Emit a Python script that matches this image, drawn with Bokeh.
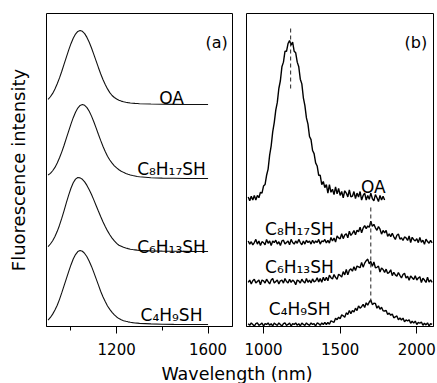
import numpy as np
from bokeh.plotting import figure
from bokeh.models import Range1d, FixedTicker, Label
from bokeh.layouts import column, row
from bokeh.embed import file_html
from bokeh.resources import INLINE
from bokeh.core.properties import value

FONT = "DejaVu Sans"
INK = "#111111"

# ---------------- panel (a): smooth spectra (intensity, % of peak) ----------------
wl_a = list(range(900, 1301, 10)) + [1350, 1400, 1450, 1500, 1550, 1600]

oa_a = [7, 10.5, 15, 21, 28, 36, 45, 54.5, 64, 73.5,
        82.2, 89.6, 95.2, 98.8, 100, 98.9, 95.8, 90.7, 84.1, 76.3,
        67.8, 58.9, 50.1, 41.6, 33.9, 27.0, 21.1, 16.1, 12.2, 9.5,
        7.4, 5.8, 4.6, 3.7, 3.0, 2.5, 2.1, 1.8, 1.5, 1.3,
        1.1, 0.6, 0.3, 0.2, 0.1, 0, 0]
c8_a = [4.8, 7, 10.5, 15, 21, 28, 36, 45, 54.5, 64,
        73.5, 82.2, 89.6, 95.2, 98.8, 100, 98.9, 95.8, 90.8, 84.3,
        76.7, 68.4, 59.8, 51.5, 43.6, 36.5, 30.2, 25.0, 20.7, 17.2,
        14.3, 11.9, 9.9, 8.3, 6.9, 5.8, 4.8, 4.0, 3.4, 2.8,
        2.3, 1.0, 0.5, 0.3, 0.1, 0, 0]
c6_a = [6.5, 10.1, 14.5, 20.2, 27.2, 35.5, 45.0, 55.3, 66.0, 76.2,
        85.4, 92.8, 97.8, 99.9, 99.5, 97.5, 94.1, 89.3, 83.5, 76.9,
        69.7, 62.2, 54.6, 47.2, 40.2, 33.7, 27.8, 22.6, 18.1, 14.2,
        11.0, 8.4, 7.0, 5.6, 4.6, 3.8, 3.1, 2.6, 2.2, 1.8,
        1.5, 0.8, 0.4, 0.2, 0.1, 0, 0]
c4_a = [6, 9.5, 14, 19.5, 26, 34, 43, 52.5, 62, 71.5,
        80.5, 88.5, 94.5, 98.5, 100, 99, 96, 91.5, 85.5, 78.5,
        70.5, 62, 53.5, 45, 37.5, 31, 25, 20.5, 16.5, 13,
        10.2, 8, 6.4, 5.2, 4.3, 3.6, 3.0, 2.5, 2.1, 1.8,
        1.5, 0.8, 0.4, 0.2, 0.1, 0, 0]

names = ["OA", "C\u2088H\u2081\u2087SH", "C\u2086H\u2081\u2083SH", "C\u2084H\u2089SH"]
series_a = [oa_a, c8_a, c6_a, c4_a]
offset_a = [300, 200, 101.4, 2.7]
label_x_a = [1440, 1440, 1440, 1440]
label_y_a = [309, 213, 107, 15.5]

# ---------------- panel (b): noisy spectra (% of OA peak) ----------------
wl_b_oa = list(range(900, 1791, 10))
wl_b = list(range(900, 2101, 10))

oa_b = [1, -1.5, 1.5, -1, 2, -1, 2, 0.5, 4, 3.5,
        8, 9, 15, 19, 28, 34, 43, 49, 57, 62,
        71, 76, 85, 88, 95, 95, 100, 102, 99, 101,
        95, 94, 88, 85, 77, 74, 65, 60, 52, 48,
        40, 38, 31, 29, 23, 21, 15, 15, 9, 11,
        7, 9, 3.5, 9, 4, 6, 2.5, 7.5, 3, 6.5,
        2, 4.5, 0.5, 5, 3.5, 1, 5.5, 1, 1.5, 4.5,
        0, 3.5, 1, 4.5, -1, 2, 3.5, -1, 2, -0.5,
        3.5, 0, -1.5, 2.5, 0.5, -2, 2, -1, 1.5, -1]
c8_b = [1, -1, 0.5, -1.5, 0, 2, -1, 1, -2, 0.5,
        0, -1.5, 2, -0.5, 1, -2, 1, 0, 1.5, -1,
        0.5, -2, 1, 1.5, -1, 0, 1, -1.5, 2, 0,
        -1, 1, -0.5, 2, 0, -1.5, 1, -1, 1.5, 0,
        1, -1, 1.5, -0.5, 1, 0, 2, -1, 1, 0.5,
        2.0, -0.3, 1.4, -0.4, 3.3, 1.0, 2.9, 0.3, 4.2, 3.0,
        2.4, 5.7, 2.5, 4.8, 5.7, 3.0, 7.3, 4.6, 5.9, 7.7,
        5.0, 7.9, 6.9, 9.9, 6.3, 9.3, 10.9, 9.0, 10.7, 9.8,
        13.8, 10.4, 11.7, 9.5, 7.9, 10.3, 8.6, 5.4, 7.8, 6.2,
        7.8, 4.0, 5.6, 3.8, 6.0, 3.7, 2.0, 4.7, 5.5, 2.2,
        3.0, 1.3, 3.6, 3.0, 1.3, 4.2, 0.0, 3.4, 1.8, 1.1,
        2.5, -0.1, 3.2, 0.1, 1.5, -1.2, 2.2, 0.6, -0.5, 1.4,
        -0.2]
c6_b = [-0.5, 1, -1.5, 0.5, 1.5, -1, 0, 1, -2, 1,
        0.5, -1, 1.5, 0, -1.5, 1, 2, -1, 0, 1,
        -1.5, 0.5, 1, -1, 2, 0, -1, 1.5, -0.5, 1,
        0, -2, 1, 0.5, -1, 1.5, 0, -1, 2, -0.5,
        1.0, -0.9, 1.7, -0.2, 0.4, 2.5, -0.3, 1.9, -0.4, 2.8,
        0.5, 2.7, 0.5, 4.2, 2.5, 1.7, 4.5, 2.7, 1.5, 4.7,
        4.0, 2.9, 6.4, 4.3, 7.8, 4.3, 7.3, 8.2, 6.7, 9.6,
        7.1, 10.0, 9.5, 8.9, 12.4, 9.3, 11.9, 13.5, 14.5, 11.4,
        13.0, 9.8, 12.6, 8.9, 9.2, 10.0, 6.1, 8.7, 7.8, 5.9,
        8.0, 5.2, 5.9, 7.6, 3.8, 6.0, 4.3, 3.5, 5.8, 4.0,
        2.3, 4.6, 5.4, 2.2, 3.5, 0.8, 3.6, 2.5, 1.3, 3.7,
        1.0, 2.3, 3.1, -0.6, 2.2, 1.0, -0.6, 2.8, -0.3, 1.1,
        -0.5]
c4_b = [0.5, -0.5, 1, 0, -1, 0.5, 1, -0.5, 0, 1,
        -1, 0.5, 0, 1, -0.5, 0.5, -1, 1, 0, -0.5,
        1, 0, -1, 0.5, 1, -0.5, 0, 1, -1, 0.5,
        0, 1, -0.5, 0.5, -1, 1, 0, -0.5, 1, 0,
        -0.5, 1, 0, 0.5, -1, 1, 0.5, -0.5, 1, 0,
        1.3, 0.0, 1.3, 0.1, 2.4, 1.8, 1.4, 4.0, 3.1, 4.7,
        3.7, 6.2, 5.6, 4.6, 7.5, 6.5, 9.0, 7.0, 9.0, 8.0,
        10.5, 9.0, 12.0, 10.5, 11.5, 13.0, 11.0, 14.0, 12.5, 14.5,
        15.9, 12.8, 13.7, 13.6, 10.5, 12.0, 9.8, 11.1, 8.9, 8.7,
        9.0, 6.4, 7.4, 5.9, 6.8, 4.3, 4.9, 5.5, 3.1, 4.2,
        2.9, 4.1, 1.8, 3.0, 2.2, 3.0, 0.8, 2.1, 0.9, 2.2,
        0.0, 1.4, 0.8, 1.6, -0.5, 0.8, -0.3, 1.1, -1.0, 0.5,
        0.0]

series_b = [(wl_b_oa, oa_b), (wl_b, c8_b), (wl_b, c6_b), (wl_b, c4_b)]
offset_b = [82.6, 54.2, 29.0, 1.3]
label_x_b = [1716, 1234, 1234, 1236]
label_y_b = [89.9, 63.1, 38.3, 11.4]

# peak markers (dashed): wavelength, y from, y to
peak_marks_b = [(1177, 192.3, 153.5), (1700, 76.8, 14.8)]


def style(p):
    p.outline_line_color = "black"
    p.outline_line_width = 1
    p.outline_line_alpha = 1
    p.xgrid.grid_line_color = None
    p.ygrid.grid_line_color = None
    p.background_fill_color = "white"
    p.border_fill_color = "white"
    ax = p.xaxis[0]
    ax.axis_line_color = "black"
    ax.major_tick_out = 7
    ax.major_tick_in = 0
    ax.minor_tick_out = 4
    ax.minor_tick_in = 0
    ax.major_tick_line_color = "black"
    ax.minor_tick_line_color = "black"
    ax.major_label_text_font = FONT
    ax.major_label_text_font_size = "15px"
    ax.major_label_text_color = "black"
    ax.major_label_standoff = 9


# ---- figure a
fa = figure(width=239, height=360, x_range=Range1d(893, 1707), y_range=Range1d(0, 423),
            output_backend="svg", toolbar_location=None, title=None,
            min_border_left=46, min_border_right=7, min_border_top=13, min_border_bottom=34)
style(fa)
fa.xaxis.ticker = FixedTicker(ticks=[1200, 1600], minor_ticks=[1000, 1400])
fa.yaxis.ticker = FixedTicker(ticks=[], minor_ticks=[])
fa.yaxis.axis_line_color = None
fa.yaxis.major_tick_out = 0
fa.yaxis.minor_tick_out = 0
fa.yaxis.major_label_standoff = 0
fa.yaxis.axis_label = "Fluorescence intensity"
fa.yaxis.axis_label_text_font = FONT
fa.yaxis.axis_label_text_font_size = "18px"
fa.yaxis.axis_label_text_font_style = "normal"
fa.yaxis.axis_label_text_color = "black"
fa.yaxis.axis_label_standoff = 18

for vals, off in zip(series_a, offset_a):
    fa.line(wl_a, np.array(vals) + off, line_color=INK, line_width=1.1)
fa.text(x=label_x_a, y=label_y_a, text=names, text_font=value(FONT),
        text_font_size=value("17px"), text_align="center", text_baseline="alphabetic",
        text_color="black")
fa.add_layout(Label(x=1686, y=383.8, text="(a)", text_align="right", text_baseline="alphabetic",
                    text_font=FONT, text_font_size="16px", text_color="black"))

# ---- figure b
fb = figure(width=198, height=360, x_range=Range1d(889, 2109), y_range=Range1d(0, 202),
            output_backend="svg", toolbar_location=None, title=None, y_axis_type=None,
            min_border_left=7, min_border_right=4, min_border_top=13, min_border_bottom=34)
style(fb)
fb.xaxis.ticker = FixedTicker(ticks=[1000, 1500, 2000], minor_ticks=[])

for (wl, vals), off in zip(series_b, offset_b):
    fb.line(wl, np.array(vals) + off, line_color="black", line_width=1.4)
for wl, y0, y1 in peak_marks_b:
    fb.segment(x0=[wl], y0=[y0], x1=[wl], y1=[y1], line_color="#222222", line_width=1,
               line_dash="4 3")
fb.text(x=label_x_b, y=label_y_b, text=names, text_font=value(FONT),
        text_font_size=value("17px"), text_align="center", text_baseline="alphabetic",
        text_color="black")
fb.add_layout(Label(x=2068, y=183.3, text="(b)", text_align="right", text_baseline="alphabetic",
                    text_font=FONT, text_font_size="16px", text_color="black"))

# ---- shared x label strip
fl = figure(width=437, height=23, x_range=Range1d(0, 437), y_range=Range1d(0, 23),
            output_backend="svg", toolbar_location=None, title=None,
            x_axis_type=None, y_axis_type=None, min_border=0,
            min_border_left=0, min_border_right=0, min_border_top=0, min_border_bottom=0)
fl.outline_line_color = None
fl.add_layout(Label(x=236.5, y=10, text="Wavelength (nm)", text_align="center",
                    text_baseline="alphabetic", text_font=FONT, text_font_size="17.5px",
                    text_color="black"))

layout = column(row(fa, fb), fl)
open("out.html", "w").write(file_html(layout, INLINE))
